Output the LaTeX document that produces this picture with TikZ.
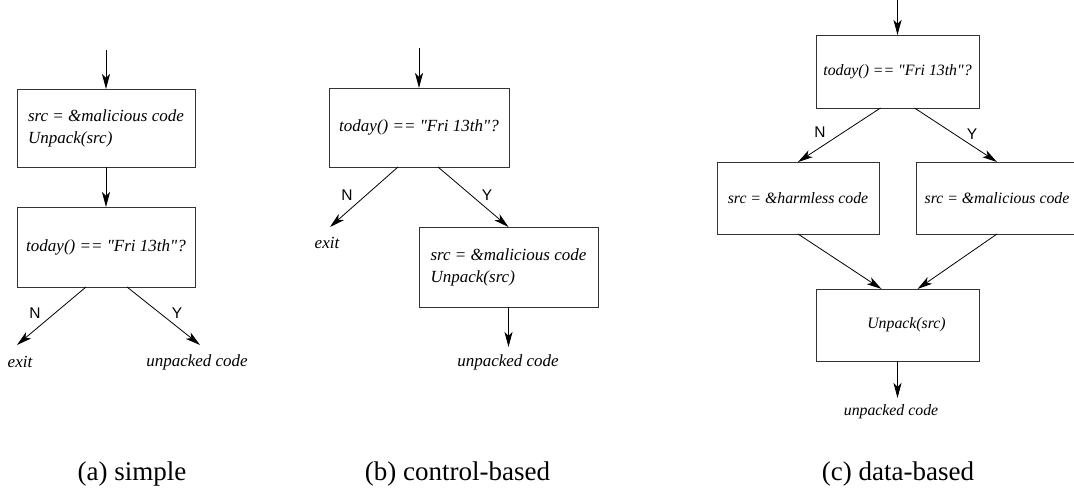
\documentclass[tikz,border=0pt]{standalone}
\usepackage{fontspec}
\setmainfont{Liberation Serif}[Ligatures=TeXOff]
\newfontfamily\hvfont{Liberation Sans}
\usetikzlibrary{arrows.meta,calc}
\begin{document}
\begin{tikzpicture}[x=1pt,y=-1pt,
  box/.style={draw=black!80, line width=0.9pt, inner sep=0pt, outer sep=0pt, font=\fontsize{17}{22}\selectfont\itshape},
  cbox/.style={box, font=\fontsize{15.8}{20}\selectfont\itshape},
  itxt/.style={inner sep=0pt, font=\fontsize{17}{22}\selectfont\itshape},
  citxt/.style={inner sep=0pt, font=\fontsize{15.8}{20}\selectfont\itshape},
  yn/.style={inner sep=0pt, font=\hvfont\fontsize{15.5}{18}\selectfont},
  captxt/.style={inner sep=0pt, anchor=base, font=\fontsize{27}{30}\selectfont},
  arr/.style={draw=black, line width=0.8pt, -{Stealth[length=15pt,width=8pt,inset=4pt]}}]
\clip (0,0) rectangle (1074,494);
\fill[white] (0,0) rectangle (1074,494);
% ---------- panel a ----------
\node[box, minimum width=178pt, minimum height=78pt, align=left] (a1) at (106,128) {src = \&malicious code\\Unpack(src)};
\node[box, minimum width=178pt, minimum height=80pt] (a2) at (106,247) {today() == "Fri 13th"?};
\coordinate (atop) at (106,50);
\draw[arr] (atop) -- (a1.north);
\draw[arr] (a1.south) -- (a2.north);
\coordinate (aN) at (17,345);
\coordinate (aY) at (200,345);
\draw[arr] ($(a2.south)+(-20,0)$) -- (aN);
\draw[arr] ($(a2.south)+(21,0)$) -- (aY);
\node[yn] (aNl) at (35,313) {N};
\node[yn] (aYl) at (177,313) {Y};
\node[itxt] (aexit) at (20,362) {exit};
\node[itxt] (aunp) at (197,362) {unpacked code};
% ---------- panel b ----------
\coordinate (btop) at (419,48);
\node[box, minimum width=180pt, minimum height=79pt] (b1) at (419,127.5) {today() == "Fri 13th"?};
\draw[arr] (btop) -- (b1.north);
\node[box, minimum width=179pt, minimum height=80pt, align=left] (b2) at (508.5,267) {src = \&malicious code\\Unpack(src)};
\coordinate (bN) at (330,227);
\draw[arr] ($(b1.south)+(-21,0)$) -- (bN);
\draw[arr] ($(b1.south)+(19,0)$) -- (b2.north);
\node[yn] (bNl) at (347,195) {N};
\node[yn] (bYl) at (487,195) {Y};
\node[itxt] (bexit) at (327,243) {exit};
\coordinate (bend) at (508.5,347);
\draw[arr] (b2.south) -- (bend);
\node[itxt] (bunp) at (508,362) {unpacked code};
% ---------- panel c ----------
\coordinate (ctop) at (897.5,-2);
\node[cbox, minimum width=163pt, minimum height=73pt] (c1) at (897.5,71.5) {today() == "Fri 13th"?};
\draw[arr] (ctop) -- (c1.north);
\node[cbox, minimum width=162pt, minimum height=72pt] (cL) at (798,198) {src = \&harmless code};
\node[cbox, minimum width=162pt, minimum height=72pt] (cR) at (997,198) {src = \&malicious code};
\node[cbox, minimum width=163pt, minimum height=72pt] (cB) at (897.5,325) {\hspace*{18pt}Unpack(src)};
\draw[arr] ($(c1.south)+(-17,0)$) -- (cL.north);
\draw[arr] ($(c1.south)+(17,0)$) -- (cR.north);
\node[yn] (cNl) at (820,132) {N};
\node[yn] (cYl) at (972,134) {Y};
\draw[arr] (cL.south) -- ($(cB.north)+(-16,0)$);
\draw[arr] (cR.south) -- ($(cB.north)+(20,0)$);
\coordinate (cend) at (897.5,398);
\draw[arr] (cB.south) -- (cend);
\node[citxt] (cunp) at (891,412) {unpacked code};
% ---------- captions ----------
\node[captxt] (capa) at (132,480) {(a) simple};
\node[captxt] (capb) at (457.5,480) {(b) control-based};
\node[captxt] (capc) at (898,480) {(c) data-based};
\end{tikzpicture}
\end{document}
